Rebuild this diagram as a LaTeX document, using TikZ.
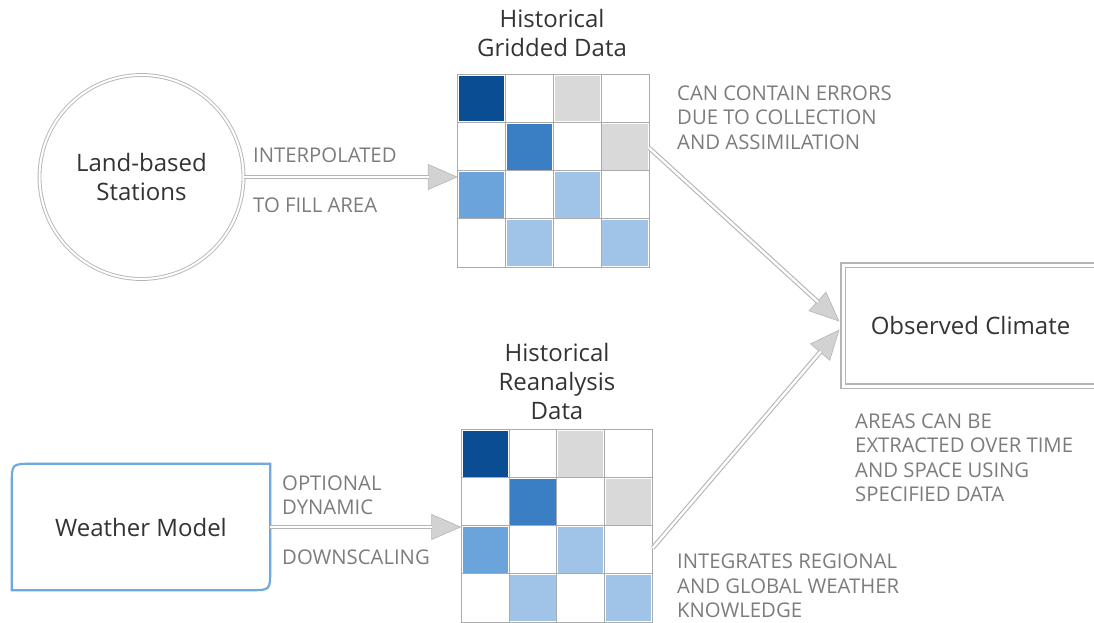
\documentclass[tikz,border=0pt]{standalone}
\usepackage{fontspec}
\setmainfont{Open Sans}
\usetikzlibrary{arrows.meta,calc}
\definecolor{dblue}{HTML}{0B4D92}
\definecolor{mblue}{HTML}{3A7EC4}
\definecolor{nblue}{HTML}{6AA4DA}
\definecolor{lblue}{HTML}{9FC4E8}
\definecolor{lgrey}{HTML}{D9D9D9}
\definecolor{wmblue}{HTML}{6FA8DC}
\definecolor{txt}{HTML}{333333}
\definecolor{lbl}{HTML}{7C7C7C}
\definecolor{lin}{HTML}{B5B5B5}
\definecolor{gline}{HTML}{ABABAB}
\definecolor{tipfill}{HTML}{D2D2D2}
\newcommand\mygridcells[1]{%
  \foreach \r/\c/\col in {0/0/dblue,0/2/lgrey,1/1/mblue,1/3/lgrey,2/0/nblue,2/2/lblue,3/1/lblue,3/3/lblue}
    \fill[\col] ($(#1.north west)+(\c*47.75+1.3,\r*48+1.3)$) rectangle ++(45.15,45.4);
  \foreach \i in {1,2,3} {
    \draw[cellline] ($(#1.north west)+(\i*47.75,0)$) -- ($(#1.south west)+(\i*47.75,0)$);
    \draw[cellline] ($(#1.north west)+(0,\i*48)$) -- ($(#1.north east)+(0,\i*48)$);
  }
  \draw[cellline] (#1.north west) rectangle (#1.south east);
}
\begin{document}
\begin{tikzpicture}[x=1pt,y=-1pt,
  maintext/.style={text=txt, font=\fontsize{24}{29}\selectfont, align=center},
  lbltext/.style={text=lbl, font=\fontsize{20.3}{24.5}\selectfont, align=left, anchor=west, inner sep=0},
  shaft/.style={draw=lin, line width=1.1pt, double=white, double distance=2.4pt, shorten >=29pt},
  tiphead/.style={draw=lin, line width=0.6pt, -{Triangle[length=30pt,width=26pt,fill=tipfill]}},
  cellline/.style={draw=gline, line width=1pt},
  gridnode/.style={minimum width=191, minimum height=192, inner sep=0},
]
\useasboundingbox (0,0) rectangle (1094,623);

% grids
\node[gridnode] (g1) at (553.5,171) {};
\mygridcells{g1}
\node[gridnode] (g2) at (557,526) {};
\mygridcells{g2}

% titles
\node[maintext] (t1) at (552,33.5) {Historical\\Gridded Data};
\node[maintext] (t2) at (557,381) {Historical\\Reanalysis\\Data};

% land-based stations
\node[circle, draw=lin, line width=0.9pt, double=white, double distance=2pt, minimum size=204, maintext] (st) at (141.5,177) {Land-based\\Stations};

% weather model
\node[maintext, minimum width=258, minimum height=126, inner sep=0] (wm) at (141,527) {Weather Model};
\draw[wmblue, line width=2.2pt] (wm.south west) -- ($(wm.north west)+(0,20)$) .. controls (wm.north west) .. ($(wm.north west)+(20,0)$) -- (wm.north east) -- ($(wm.south east)+(0,-20)$) .. controls (wm.south east) .. ($(wm.south east)+(-20,0)$) -- cycle;

% observed climate
\node[draw=lin, line width=1.1pt, double=white, double distance=3pt, minimum width=255, minimum height=121, maintext] (oc) at (970.5,325.5) {Observed Climate};

% arrows
\coordinate (e1) at (st.east -| g1.west);
\draw[tiphead] (st.east) -- (e1);
\draw[shaft] (st.east) -- (e1);

\coordinate (e2) at (wm.east -| g2.west);
\draw[tiphead] (wm.east) -- (e2);
\draw[shaft] (wm.east) -- (e2);

\coordinate (s3) at ($(g1.east)+(0,-23)$);
\coordinate (e3) at ($(oc.west)+(-3,-4)$);
\draw[tiphead] (s3) -- (e3);
\draw[shaft] (s3) -- (e3);

\coordinate (s4) at ($(g2.east)+(0,22)$);
\coordinate (e4) at ($(oc.west)+(-3,4)$);
\draw[tiphead] (s4) -- (e4);
\draw[shaft] (s4) -- (e4);

% labels
\node[lbltext] (l1) at (253,155) {INTERPOLATED};
\node[lbltext] (l2) at (253,205) {TO FILL AREA};
\node[lbltext] (l3) at (677,117.5) {CAN CONTAIN ERRORS\\DUE TO COLLECTION\\AND ASSIMILATION};
\node[lbltext] (l4) at (282,495) {OPTIONAL\\DYNAMIC};
\node[lbltext] (l5) at (282,557) {DOWNSCALING};
\node[lbltext] (l6) at (855,457.5) {AREAS CAN BE\\EXTRACTED OVER TIME\\AND SPACE USING\\SPECIFIED DATA};
\node[lbltext] (l7) at (677,586) {INTEGRATES REGIONAL\\AND GLOBAL WEATHER\\KNOWLEDGE};
\end{tikzpicture}
\end{document}
